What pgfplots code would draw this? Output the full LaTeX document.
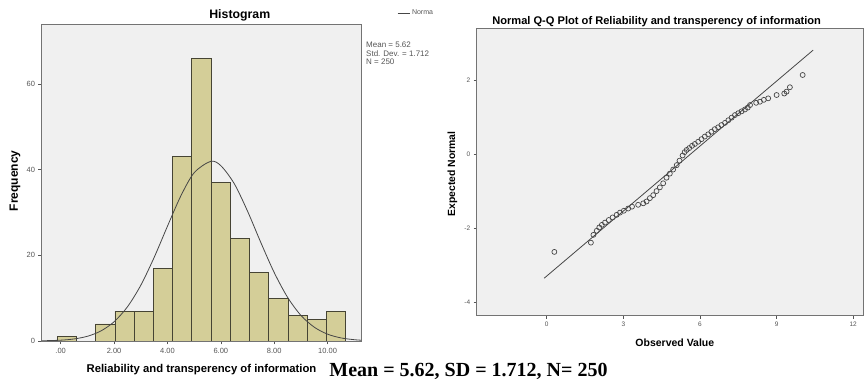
\documentclass[border=0pt]{standalone}
\usepackage{pgfplots}
\pgfplotsset{compat=1.18}
\usepackage{fontspec}
\setmainfont{Liberation Sans}
\newfontfamily\timesfont{Liberation Serif}
\definecolor{bgc}{RGB}{240,240,240}
\definecolor{barfill}{RGB}{212,206,152}
\definecolor{baredge}{RGB}{70,68,52}
\definecolor{framec}{RGB}{115,115,115}
\definecolor{tickc}{RGB}{85,85,85}
\definecolor{curvec}{RGB}{70,70,70}
\begin{document}
\begin{tikzpicture}
\useasboundingbox (0,0) rectangle (865bp,385bp);
% ---------------- Histogram ----------------
\begin{axis}[
  at={(42bp,44bp)}, anchor=south west,
  scale only axis, width=319bp, height=317bp,
  xmin=-0.70, xmax=11.25, ymin=0, ymax=74,
  axis background/.style={fill=bgc},
  axis line style={framec, line width=1bp},
  tick pos=left, tick align=outside,
  major tick length=3.5bp,
  tick style={tickc, line width=0.6bp},
  xtick={0,2,4,6,8,10},
  xticklabels={.00,2.00,4.00,6.00,8.00,10.00},
  ytick={0,20,40,60},
  yticklabels={0,20,40,60},
  ticklabel style={font=\fontsize{7.5bp}{8bp}\selectfont, text=tickc},
  title={\textbf{Histogram}},
  title style={font=\fontsize{12.3bp}{13bp}\selectfont, at={(axis description cs:0.62,1.0315)}, anchor=center, yshift=-7.5bp},
  xlabel={\textbf{Reliability and transperency of information}},
  xlabel style={font=\fontsize{11.3bp}{12bp}\selectfont, at={(axis description cs:0.5,-0.091)}, anchor=center},
  ylabel={\textbf{Frequency}},
  ylabel style={font=\fontsize{12bp}{13bp}\selectfont, at={(axis description cs:-0.085,0.505)}, anchor=center},
  legend style={at={(axis description cs:1.113,1.035)}, anchor=west, draw=none, fill=none,
    font=\fontsize{7bp}{8bp}\selectfont, text=tickc, inner sep=0pt},
  legend image code/.code={\draw[#1] (0bp,0bp) -- (12bp,0bp);},
  clip=true,
]
\addplot[ybar interval, fill=barfill, draw=baredge, line width=0.7bp, forget plot] coordinates {
  (-0.13,1) (0.59,0) (1.31,4) (2.03,7) (2.75,7) (3.47,17) (4.19,43) (4.91,66)
  (5.63,37) (6.35,24) (7.07,16) (7.79,10) (8.51,6) (9.23,5) (9.95,7) (10.67,7)
};
\addplot[smooth, curvec, line width=0.8bp] coordinates {
  (-0.7,0.05) (0,0.19) (0.5,0.48) (1,1.10) (1.5,2.32) (2,4.49) (2.5,7.97) (3,13.00)
  (3.5,19.49) (4,26.80) (4.5,33.86) (5,39.28) (5.62,41.94) (6,40.92) (6.5,36.75)
  (7,30.31) (7.5,22.95) (8,15.96) (8.5,10.19) (9,5.97) (9.5,3.22) (10,1.59)
  (10.5,0.72) (11,0.30) (11.25,0.19)
};
\addlegendentry{Norma}
\end{axis}
\node[anchor=north west, align=left, font=\fontsize{8bp}{8.5bp}\selectfont, text=tickc, inner sep=0pt]
  at (366bp,343bp) {Mean = 5.62\\Std. Dev. = 1.712\\N = 250};
% ---------------- Q-Q plot ----------------
\begin{axis}[
  at={(476.7bp,69.3bp)}, anchor=south west,
  scale only axis, width=387bp, height=286.7bp,
  xmin=-2.74, xmax=12.41, ymin=-4.36, ymax=3.37,
  axis background/.style={fill=bgc},
  axis line style={framec, line width=1bp},
  tick pos=left, tick align=outside,
  major tick length=3bp,
  tick style={tickc, line width=0.6bp},
  xtick={0,3,6,9,12},
  xticklabels={0,3,6,9,12},
  ytick={-4,-2,0,2},
  yticklabels={-4,-2,0,2},
  ticklabel style={font=\fontsize{6.5bp}{7bp}\selectfont, text=tickc},
  title={\textbf{Normal Q-Q Plot of Reliability and transperency of information}},
  title style={font=\fontsize{11.1bp}{12bp}\selectfont, at={(axis description cs:0.465,1.031)}, anchor=center, yshift=-7.5bp},
  xlabel={\textbf{Observed Value}},
  xlabel style={font=\fontsize{10.5bp}{11bp}\selectfont, at={(axis description cs:0.512,-0.095)}, anchor=center},
  ylabel={\textbf{Expected Normal}},
  ylabel style={font=\fontsize{10.4bp}{11bp}\selectfont, at={(axis description cs:-0.063,0.494)}, anchor=center},
  clip=true,
]
\addplot[curvec, line width=0.8bp] coordinates {(-0.1,-3.35) (10.43,2.80)};
\addplot[only marks, mark=o, mark size=2.5bp, mark options={draw=curvec, line width=0.7bp}] coordinates {
  (0.30,-2.64) (1.73,-2.39) (1.83,-2.18) (1.96,-2.07) (2.06,-1.98) (2.16,-1.91)
  (2.28,-1.85) (2.43,-1.78) (2.58,-1.71) (2.74,-1.64) (2.87,-1.58) (3.02,-1.53)
  (3.19,-1.47) (3.34,-1.42) (3.58,-1.37) (3.78,-1.33) (3.91,-1.28) (4.04,-1.19)
  (4.17,-1.11) (4.30,-1.00) (4.43,-0.90) (4.56,-0.79) (4.69,-0.64) (4.82,-0.53)
  (4.95,-0.42) (5.09,-0.30) (5.20,-0.18) (5.32,-0.04) (5.40,0.05) (5.48,0.11)
  (5.58,0.16) (5.69,0.22) (5.80,0.27) (5.93,0.33) (6.06,0.40) (6.19,0.47)
  (6.32,0.53) (6.45,0.60) (6.58,0.67) (6.71,0.72) (6.84,0.78) (6.98,0.84)
  (7.11,0.91) (7.24,0.98) (7.37,1.05) (7.50,1.10) (7.63,1.15) (7.76,1.20)
  (7.87,1.25) (7.96,1.32) (8.20,1.38) (8.35,1.41) (8.50,1.46) (8.67,1.50)
  (9.00,1.59) (9.30,1.63) (9.39,1.68) (9.52,1.80) (10.02,2.13)
};
\end{axis}
\node[anchor=center, font=\timesfont\bfseries\fontsize{20bp}{22bp}\selectfont, inner sep=0pt]
  at (468.5bp,14bp) {Mean = 5.62, SD = 1.712, N= 250};
\end{tikzpicture}
\end{document}
